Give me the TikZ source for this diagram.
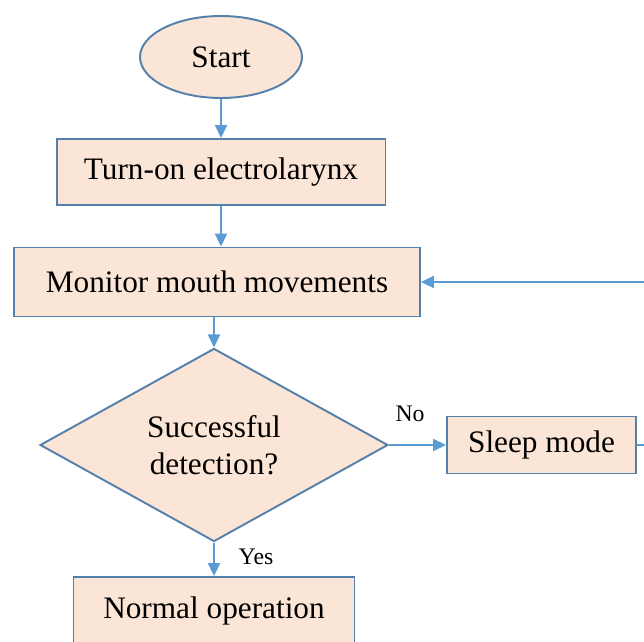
\documentclass[tikz,border=0pt]{standalone}
\usepackage{fontspec}
\setmainfont{Liberation Serif}
\usetikzlibrary{shapes.geometric,arrows.meta}

\definecolor{fcfill}{RGB}{251,229,214}
\definecolor{fcline}{RGB}{84,128,172}
\definecolor{fcarrow}{RGB}{91,155,213}

\tikzset{
    fc box/.style={rectangle, draw=fcline, line width=1.1pt, fill=fcfill,
                   inner sep=0pt, font=\fontsize{17.8}{21}\selectfont},
    fc start/.style={fc box, ellipse},
    fc decision/.style={fc box, diamond, align=center},
    fc flow/.style={->, line width=1.1pt, fcarrow,
                    >={Triangle[length=0.26cm, width=0.24cm]}},
    fc label/.style={font=\fontsize{13.5}{16}\selectfont},
}

\begin{document}
\begin{tikzpicture}[x=0.02cm, y=-0.02cm]
    \useasboundingbox (0,0) rectangle (644,641);
    % Main column
    \node[fc start, minimum width=3.24cm, minimum height=1.64cm]
        (start) at (221,57) {Start};
    \node[fc box, minimum width=6.58cm, minimum height=1.32cm]
        (turnon) at (221,172) {Turn-on electrolarynx};
    \node[fc box, minimum width=8.12cm, minimum height=1.38cm]
        (monitor) at (217,282) {Monitor mouth movements};
    \node[fc decision, minimum width=6.96cm, minimum height=3.54cm]
        (detect) at (214,445) {Successful\\detection?};
    \node[fc box, minimum width=5.62cm, minimum height=1.36cm]
        (normal) at (214,611) {Normal operation};
    % Side branch
    \node[fc box, minimum width=3.78cm, minimum height=1.14cm]
        (sleep) at (541.5,445) {Sleep mode};
    % Labels
    \node[fc label] (no) at (410,414) {No};
    \node[fc label] (yes) at (256,557) {Yes};
    % Flow arrows
    \draw[fc flow] (start.south) -- (turnon.north);
    \draw[fc flow] (turnon.south) -- (turnon.south |- monitor.north);
    \draw[fc flow] (monitor.south -| detect.north) -- (detect.north);
    \draw[fc flow] (detect.east) -- (sleep.west);
    \draw[fc flow] (detect.south) -- (normal.north);
    \draw[fc flow] (sleep.east) -- ++(20,0) |- (monitor.east);
\end{tikzpicture}
\end{document}
